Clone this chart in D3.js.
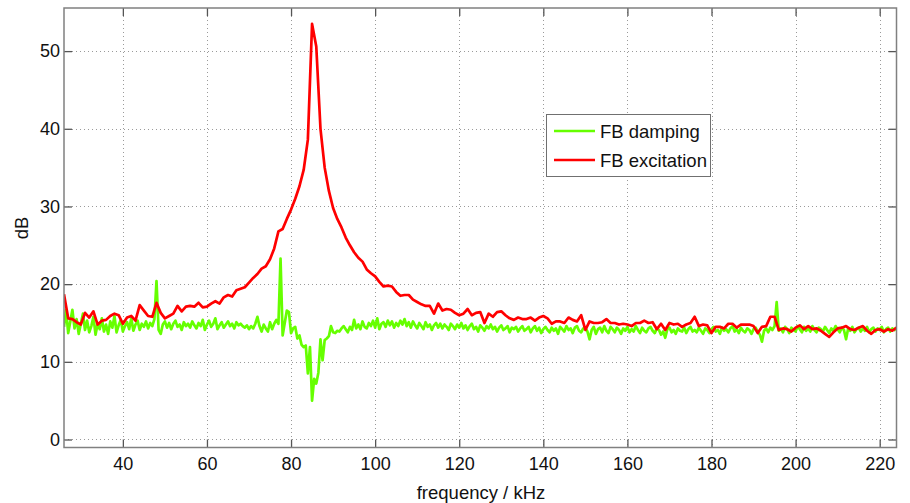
<!DOCTYPE html>
<html>
<head>
<meta charset="utf-8">
<script src="https://cdn.jsdelivr.net/npm/d3@7"></script>
<style>
  html, body { margin: 0; padding: 0; background: #fff; }
  svg { display: block; }
  text { font-family: "Liberation Sans", Arial, sans-serif; fill: #111; }
</style>
</head>
<body>
<svg id="chart" width="910" height="503"></svg>
<script>
// ---- data ----
const xTicks = [40, 60, 80, 100, 120, 140, 160, 180, 200, 220];
const yTicks = [0, 10, 20, 30, 40, 50];
const seriesNames = ["FB damping", "FB excitation"];
const seriesColors = ["#66ff00", "#ff0000"];

// FB excitation: 26..224 kHz, 1 kHz spacing
const excitationStart = 26, excitationStep = 1;
const excitation = [
  18.7,15.6,15.5,15.1,14.8,16.3,15.7,16.5,14.8,15.3,
  15.4,15.9,16.2,16.0,14.9,15.7,15.9,15.3,17.3,16.6,
  15.9,15.8,17.6,16.3,15.6,15.9,16.2,17.2,16.5,17.1,
  17.2,17.1,17.6,17.0,17.1,17.5,17.8,17.5,18.3,18.6,
  18.4,19.2,19.4,19.6,20.2,20.8,21.3,22.0,22.3,23.2,
  24.6,26.8,27.1,28.4,29.6,31.0,32.6,34.7,38.6,53.5,
  50.6,40.0,35.0,32.0,29.8,28.4,27.3,26.0,25.0,24.1,
  23.4,22.9,21.9,21.4,21.0,20.3,19.7,19.8,19.7,19.0,
  18.5,18.6,18.6,18.0,17.7,17.4,17.2,17.2,16.2,17.5,
  16.6,16.8,16.7,16.3,16.0,16.2,16.8,16.0,16.3,16.4,
  15.0,16.2,15.8,16.4,16.5,16.0,15.6,15.4,15.7,15.5,
  15.5,15.7,15.3,15.7,15.9,15.6,14.9,15.2,15.2,15.0,
  15.7,15.4,15.2,16.0,14.1,15.2,15.0,15.0,15.1,15.5,
  15.0,15.0,14.8,14.9,14.8,14.6,15.0,15.0,15.3,15.0,
  15.1,14.2,14.9,14.1,15.0,14.8,14.9,14.5,14.8,15.0,
  15.8,14.6,14.8,14.7,13.7,14.5,14.5,14.3,14.9,14.9,
  14.4,14.8,14.8,14.8,14.6,13.7,14.5,14.6,15.8,15.8,
  14.1,14.3,14.2,13.9,14.4,14.7,14.2,14.6,14.2,14.3,
  14.0,13.6,13.2,13.8,14.3,14.4,14.6,14.2,14.1,14.4,
  14.6,14.0,13.6,14.1,14.2,13.9,14.2,14.0,14.4
];

// FB damping: 26..224 kHz, 0.5 kHz spacing
const dampingStart = 26, dampingStep = 0.5;
const damping = [
  14.5,16.7,13.7,15.2,16.7,14.3,15.5,13.6,14.9,16.2,14.1,15.3,13.8,14.6,15.8,13.5,14.9,14.2,15.6,13.9,
  14.8,13.6,15.2,14.4,15.9,13.8,14.7,15.4,13.9,14.6,15.1,14.2,15.6,14.0,14.8,15.3,14.1,14.9,14.5,15.2,
  14.3,15.0,14.6,15.5,20.4,14.1,13.6,14.8,15.2,14.4,15.0,14.2,14.9,15.3,14.5,14.8,14.1,15.1,14.6,14.9,
  14.4,15.2,14.7,14.3,15.0,14.6,15.4,14.1,14.8,15.3,14.5,14.9,15.6,14.2,14.7,15.1,14.4,14.8,15.2,14.6,
  14.9,14.3,15.1,14.7,14.9,14.6,14.4,14.7,14.2,14.6,14.3,14.9,15.8,14.6,13.9,14.8,14.3,13.9,15.1,14.2,
  14.9,15.4,14.9,23.3,13.4,15.0,16.6,16.4,13.7,14.3,14.5,13.0,13.4,12.2,11.9,12.1,8.5,11.9,5.0,7.8,
  7.2,8.6,12.9,10.2,12.8,13.0,13.3,14.6,13.8,13.7,14.0,13.9,14.3,14.6,14.2,13.8,14.5,14.1,15.4,14.3,
  14.8,14.2,15.2,14.5,14.3,15.0,14.6,15.3,14.4,15.6,14.2,14.9,15.1,14.5,15.3,14.7,15.2,14.4,15.0,14.6,
  15.3,14.8,15.5,14.6,15.1,14.4,15.2,14.7,14.3,15.0,14.6,14.2,15.1,14.5,14.8,14.1,14.7,15.0,14.4,14.9,
  14.3,14.8,14.5,14.1,14.9,14.6,14.2,14.8,14.4,15.0,14.3,14.7,14.1,14.6,14.9,14.2,14.5,13.9,14.7,14.4,
  14.0,14.6,14.3,14.8,14.2,14.5,13.9,14.4,14.7,14.1,14.3,14.6,13.8,14.4,14.2,14.5,13.9,14.3,14.6,14.0,
  14.2,14.5,13.8,14.3,14.6,14.0,14.4,13.7,14.2,14.5,14.1,13.8,14.4,14.0,14.3,13.6,14.5,14.2,13.9,14.6,
  14.1,14.3,13.7,14.4,14.6,14.0,13.8,14.3,14.4,13.9,12.9,14.1,14.5,13.6,14.2,14.4,13.8,14.6,14.0,13.7,
  14.5,14.2,13.8,14.4,14.1,13.6,14.3,14.0,14.5,13.8,14.2,13.9,14.6,14.1,13.7,14.4,14.0,13.8,14.3,14.5,
  14.0,13.7,14.3,14.1,13.5,13.9,13.1,14.2,14.4,13.8,14.1,13.6,14.3,14.0,13.9,14.4,13.7,14.2,14.5,13.9,
  14.1,13.8,14.4,14.0,13.6,14.3,14.1,13.7,14.2,14.5,13.9,14.1,13.6,14.4,14.0,14.2,13.8,14.3,14.6,13.9,
  14.2,13.7,14.4,14.0,13.8,14.3,14.1,13.6,14.2,14.4,13.9,13.5,12.6,14.0,14.3,13.8,14.4,14.1,14.6,17.7,
  14.0,14.3,13.8,14.5,14.2,13.7,14.4,14.1,13.9,14.6,14.2,13.8,14.5,14.0,14.3,13.9,14.6,14.1,13.8,14.4,
  14.2,13.9,14.5,14.1,13.7,14.3,14.0,14.6,14.2,13.8,14.4,14.1,12.9,14.3,14.0,14.5,13.8,14.2,14.4,13.9,
  14.3,14.0,14.5,13.8,14.2,14.4,13.9,14.3,14.1,14.5,13.8,14.2,14.4,13.9,14.3,14.1,14.4
];

// ---- layout ----
const svg = d3.select("#chart");
const L = 64, R = 896.5, T = 8, B = 447.5;
const x = d3.scaleLinear().domain([26, 224]).range([L, R]);
const y = d3.scaleLinear().domain([-1.03, 55.55]).range([B, T]);
const FONT = '"Liberation Sans", Arial, sans-serif';

// grid
const grid = svg.append("g");
grid.selectAll("line.gx").data(xTicks).join("line")
  .attr("x1", d => Math.round(x(d)) + 0.5).attr("x2", d => Math.round(x(d)) + 0.5)
  .attr("y1", T).attr("y2", B)
  .attr("stroke", "#9a9a9a").attr("stroke-width", 1).attr("stroke-dasharray", "1,3");
grid.selectAll("line.gy").data(yTicks).join("line")
  .attr("y1", d => Math.round(y(d)) + 0.5).attr("y2", d => Math.round(y(d)) + 0.5)
  .attr("x1", L).attr("x2", R)
  .attr("stroke", "#9a9a9a").attr("stroke-width", 1).attr("stroke-dasharray", "1,3");

// lines
svg.append("clipPath").attr("id", "clip").append("rect")
  .attr("x", L).attr("y", T).attr("width", R - L).attr("height", B - T);
const plot = svg.append("g").attr("clip-path", "url(#clip)");
const line = d3.line().x(d => x(d[0])).y(d => y(d[1]));
const dampPts = damping.map((v, i) => [dampingStart + i * dampingStep, v]);
const excPts = excitation.map((v, i) => [excitationStart + i * excitationStep, v]);
plot.append("path").datum(dampPts).attr("d", line)
  .attr("fill", "none").attr("stroke", seriesColors[0]).attr("stroke-width", 2.7)
  .attr("stroke-linejoin", "round");
plot.append("path").datum(excPts).attr("d", line)
  .attr("fill", "none").attr("stroke", seriesColors[1]).attr("stroke-width", 2.7)
  .attr("stroke-linejoin", "round");

// axes with inward ticks on all sides
const tickLen = 8;
const axB = svg.append("g").attr("transform", `translate(0,${B})`)
  .call(d3.axisBottom(x).tickValues(xTicks).tickSize(-tickLen).tickPadding(10));
const axT = svg.append("g").attr("transform", `translate(0,${T})`)
  .call(d3.axisTop(x).tickValues(xTicks).tickSize(-tickLen).tickFormat(""));
const axL = svg.append("g").attr("transform", `translate(${L},0)`)
  .call(d3.axisLeft(y).tickValues(yTicks).tickSize(-tickLen).tickPadding(4));
const axR = svg.append("g").attr("transform", `translate(${R},0)`)
  .call(d3.axisRight(y).tickValues(yTicks).tickSize(-tickLen).tickFormat(""));
[axB, axT, axL, axR].forEach(a => {
  a.select(".domain").remove();
  a.selectAll(".tick line").attr("stroke", "#555").attr("stroke-width", 1.3);
  a.selectAll(".tick text").style("font-size", "18px")
    .style("font-family", FONT).attr("fill", "#111");
});
axB.selectAll(".tick text").attr("y", 0).attr("dy", "1.25em");

// box
svg.append("rect").attr("x", L).attr("y", T).attr("width", R - L).attr("height", B - T)
  .attr("fill", "none").attr("stroke", "#808080").attr("stroke-width", 1.5);

// axis labels
svg.append("text").attr("x", 481).attr("y", 499).attr("text-anchor", "middle")
  .style("font-size", "18.5px").text("frequency / kHz");
svg.append("text").attr("transform", "translate(28,228) rotate(-90)")
  .attr("text-anchor", "middle").style("font-size", "18.5px").text("dB");

// legend
const lg = svg.append("g");
lg.append("rect").attr("x", 546.5).attr("y", 114.5).attr("width", 164).attr("height", 62)
  .attr("fill", "#fff").attr("stroke", "#707070").attr("stroke-width", 1);
seriesNames.forEach((name, i) => {
  const cy = 131 + i * 29;
  lg.append("line").attr("x1", 554).attr("x2", 595).attr("y1", cy).attr("y2", cy)
    .attr("stroke", seriesColors[i]).attr("stroke-width", 2.7);
  lg.append("text").attr("x", 600).attr("y", cy + 6.5).style("font-size", "18.5px").text(name);
});
</script>
</body>
</html>
